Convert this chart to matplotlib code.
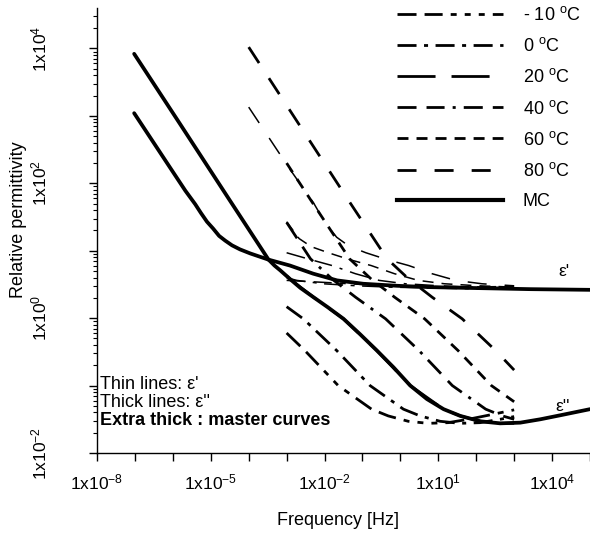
import numpy as np
import matplotlib
matplotlib.use('Agg')
import matplotlib.pyplot as plt
from matplotlib.lines import Line2D
from matplotlib.ticker import FixedLocator, LogLocator, NullFormatter

plt.rcParams['font.family'] = ['Liberation Sans', 'DejaVu Sans']
plt.rcParams['mathtext.fontset'] = 'custom'
plt.rcParams['mathtext.rm'] = 'Liberation Sans'
plt.rcParams['mathtext.it'] = 'Liberation Sans:italic'
plt.rcParams['mathtext.bf'] = 'Liberation Sans:bold'
plt.rcParams['lines.scale_dashes'] = False

# ---------------- data (log10 frequency [Hz], log10 relative permittivity) ----------------
mc_eps2_logf = [-7.02, -5.81, -4.49, -3.70, -3.48, -3.32, -3.17, -2.91, -2.64, -2.29, -1.91, -1.50, -1.06,
                -0.62, -0.18, 0.26, 0.70, 1.14, 1.58, 2.11, 2.63, 3.16, 3.69, 4.22, 5.0]
mc_eps2_log = [3.92, 2.88, 1.74, 1.06, 0.87, 0.78, 0.71, 0.58, 0.45, 0.31, 0.16, -0.01, -0.24,
               -0.48, -0.73, -1.00, -1.20, -1.35, -1.45, -1.53, -1.56, -1.55, -1.50, -1.44, -1.35]
mc_eps1_logf = [-7.02, -6.07, -5.67, -5.41, -5.26, -5.10, -4.94, -4.78, -4.62, -4.44, -4.23, -3.96, -3.49,
                -2.91, -2.30, -1.67, -0.98, -0.09, 0.79, 1.66, 3.43, 5.0]
mc_eps1_log = [3.04, 2.23, 1.89, 1.69, 1.56, 1.43, 1.33, 1.22, 1.15, 1.08, 1.02, 0.96, 0.87,
               0.78, 0.66, 0.56, 0.51, 0.48, 0.46, 0.45, 0.43, 0.42]

t80_eps2_logf = [-4.0, -2.68, -1.36, -0.35, 0.22, 0.84, 1.63, 2.51, 3.0]
t80_eps2_log = [4.02, 2.88, 1.74, 0.88, 0.58, 0.31, -0.01, -0.48, -0.77]
t80_eps1_logf = [-4.0, -2.94, -2.28, -1.97, -1.68, -1.36, -0.91, -0.36, 0.22, 0.83, 1.46, 2.15, 3.0]
t80_eps1_log = [3.13, 2.23, 1.70, 1.40, 1.20, 1.07, 0.97, 0.87, 0.78, 0.66, 0.56, 0.51, 0.48]

t60_eps2_logf = [-3.0, -2.35, -1.34, -0.77, -0.15, 0.64, 1.52, 2.40, 3.0]
t60_eps2_log = [2.30, 1.74, 0.88, 0.58, 0.31, -0.01, -0.48, -1.00, -1.24]
t60_eps1_logf = [-3.0, -2.67, -2.35, -1.90, -1.35, -0.77, -0.16, 0.47, 1.16, 2.05, 3.0]
t60_eps1_log = [1.43, 1.18, 1.06, 0.97, 0.87, 0.78, 0.66, 0.56, 0.51, 0.48, 0.46]

t40_eps2_logf = [-3.0, -2.37, -1.80, -1.18, -0.39, 0.49, 1.37, 2.25, 2.69, 3.0]
t40_eps2_log = [1.42, 0.88, 0.58, 0.31, -0.01, -0.48, -1.00, -1.35, -1.45, -1.50]
t40_eps1_logf = [-3.0, -2.38, -1.80, -1.19, -0.56, 0.13, 1.02, 1.90, 3.0]
t40_eps1_log = [0.97, 0.87, 0.78, 0.66, 0.56, 0.51, 0.48, 0.46, 0.45]

t20_eps2_logf = [-3.0, -2.91, -2.29, -1.50, -0.62, 0.26, 1.14, 1.58, 2.11, 2.63, 3.0]
t20_eps2_log = [0.63, 0.58, 0.31, -0.01, -0.48, -1.00, -1.35, -1.45, -1.53, -1.56, -1.56]
t20_eps1_logf = [-3.0, -2.30, -1.67, -0.98, -0.09, 0.79, 1.66, 3.0]
t20_eps1_log = [0.79, 0.66, 0.56, 0.51, 0.48, 0.46, 0.45, 0.435]

t0_eps2_logf = [-3.0, -2.56, -1.68, -0.80, 0.08, 0.52, 1.05, 1.57, 2.10, 2.63, 3.0]
t0_eps2_log = [0.17, -0.01, -0.48, -1.00, -1.35, -1.45, -1.53, -1.56, -1.55, -1.50, -1.46]
t0_eps1_logf = [-3.0, -2.73, -2.04, -1.15, -0.27, 0.60, 2.37, 3.0]
t0_eps1_log = [0.60, 0.56, 0.51, 0.48, 0.46, 0.45, 0.43, 0.43]

tm10_eps2_logf = [-3.0, -2.52, -1.64, -0.76, -0.32, 0.21, 0.73, 1.26, 1.79, 2.32, 3.0]
tm10_eps2_log = [-0.22, -0.48, -1.00, -1.35, -1.45, -1.53, -1.56, -1.55, -1.50, -1.44, -1.36]
tm10_eps1_logf = [-3.0, -2.0, -1.0, 0.0, 1.5, 3.0]
tm10_eps1_log = [0.56, 0.53, 0.50, 0.48, 0.46, 0.47]

legend_labels = ['- 10 $^{\\mathrm{o}}$C', '0 $^{\\mathrm{o}}$C', '20 $^{\\mathrm{o}}$C',
                 '40 $^{\\mathrm{o}}$C', '60 $^{\\mathrm{o}}$C', '80 $^{\\mathrm{o}}$C', 'MC']
x_tick_exps = [-8, -5, -2, 1, 4]
y_tick_exps = [-2, 0, 2, 4]

# ---------------- styles ----------------
dash_styles = {
    'm10': (0, (13.7, 5.8, 13.0, 5.8, 4.3, 5.8, 4.3, 5.8, 4.3, 5.8)),
    't0': (0, (13.7, 5.4, 2.9, 5.4)),
    't20': (0, (27.4, 11.5)),
    't40': (0, (13.7, 7.2, 13.0, 5.8, 2.2, 5.8)),
    't60': (0, (7.9, 5.8)),
    't80': (0, (13.7, 13.0)),
}
LW_THIN = 1.1
LW_THICK = 2.0
LW_MC = 2.7

W, H = 590, 533
fig = plt.figure(figsize=(W / 100, H / 100), dpi=100)
ax = fig.add_axes([97 / W, 1 - 453 / H, 493 / W, 445 / H])

def P(v):
    return 10 ** np.asarray(v, dtype=float)

series = [
    ('m10', tm10_eps1_logf, tm10_eps1_log, tm10_eps2_logf, tm10_eps2_log),
    ('t0', t0_eps1_logf, t0_eps1_log, t0_eps2_logf, t0_eps2_log),
    ('t20', t20_eps1_logf, t20_eps1_log, t20_eps2_logf, t20_eps2_log),
    ('t40', t40_eps1_logf, t40_eps1_log, t40_eps2_logf, t40_eps2_log),
    ('t60', t60_eps1_logf, t60_eps1_log, t60_eps2_logf, t60_eps2_log),
    ('t80', t80_eps1_logf, t80_eps1_log, t80_eps2_logf, t80_eps2_log),
]
handles = []
for key, f1, e1, f2, e2 in series:
    ax.plot(P(f1), P(e1), color='black', lw=LW_THIN, linestyle=dash_styles[key], zorder=2)
    ax.plot(P(f2), P(e2), color='black', lw=LW_THICK, linestyle=dash_styles[key], zorder=3)
    handles.append(Line2D([], [], color='black', lw=LW_THICK, linestyle=dash_styles[key]))

ax.plot(P(mc_eps1_logf), P(mc_eps1_log), color='black', lw=LW_MC, solid_capstyle='round',
        solid_joinstyle='round', zorder=4)
ax.plot(P(mc_eps2_logf), P(mc_eps2_log), color='black', lw=LW_MC, solid_capstyle='round',
        solid_joinstyle='round', zorder=4)
handles.append(Line2D([], [], color='black', lw=LW_MC + 0.3))

ax.set_xscale('log')
ax.set_yscale('log')
ax.set_xlim(1e-8, 1e5)
ax.set_ylim(1e-2, 10 ** 4.6)

for s in ['top', 'right']:
    ax.spines[s].set_visible(False)
ax.spines['left'].set_linewidth(1.0)
ax.spines['bottom'].set_linewidth(1.0)

# x ticks: every decade, labels every third decade
ax.xaxis.set_major_locator(FixedLocator(P(np.arange(-8, 6))))
ax.xaxis.set_minor_locator(FixedLocator([]))
ax.set_xticklabels(['1x10$^{%d}$' % e if e in x_tick_exps else '' for e in range(-8, 6)], fontsize=12.5)
ax.tick_params(axis='x', which='major', direction='out', length=6, width=1.0, pad=8)

# y ticks
ax.yaxis.set_major_locator(FixedLocator(P(np.arange(-2, 5))))
ax.yaxis.set_minor_locator(LogLocator(base=10, subs=np.arange(2, 10)))
ax.yaxis.set_minor_formatter(NullFormatter())
ax.set_yticklabels(['1x10$^{%d}$' % e if e in y_tick_exps else '' for e in range(-2, 5)],
                   fontsize=12.5, rotation=90, va='center')
ax.tick_params(axis='y', which='major', direction='out', length=6, width=1.0, pad=28)
ax.tick_params(axis='y', which='minor', direction='out', length=3, width=0.8)

ax.set_xlabel('Frequency [Hz]', fontsize=13)
ax.xaxis.set_label_coords((338 - 97) / 493, (453 - 512) / 445)
ax.set_ylabel('Relative permittivity', fontsize=13)
ax.yaxis.set_label_coords((27 - 97) / 493, (453 - 220) / 445)

leg = ax.legend(handles, legend_labels, loc='upper left', frameon=False, fontsize=13,
                bbox_to_anchor=(397 / W, 1 - 6 / H), bbox_transform=fig.transFigure,
                borderpad=0, borderaxespad=0, handlelength=5.87, handletextpad=1.1,
                labelspacing=0.73)

def ftxt(x, y, s, **kw):
    fig.text(x / W, 1 - y / H, s, **kw)

ftxt(100, 389, "Thin lines: \u03b5'", fontsize=13, va='baseline')
ftxt(100, 407, "Thick lines: \u03b5''", fontsize=13, va='baseline')
ftxt(100, 425, "Extra thick : master curves", fontsize=13, fontweight='bold', va='baseline')
ftxt(558, 276, "\u03b5'", fontsize=12.5, va='baseline')
ftxt(555, 411, "\u03b5''", fontsize=12.5, va='baseline')

fig.savefig('out.png', dpi=100)
